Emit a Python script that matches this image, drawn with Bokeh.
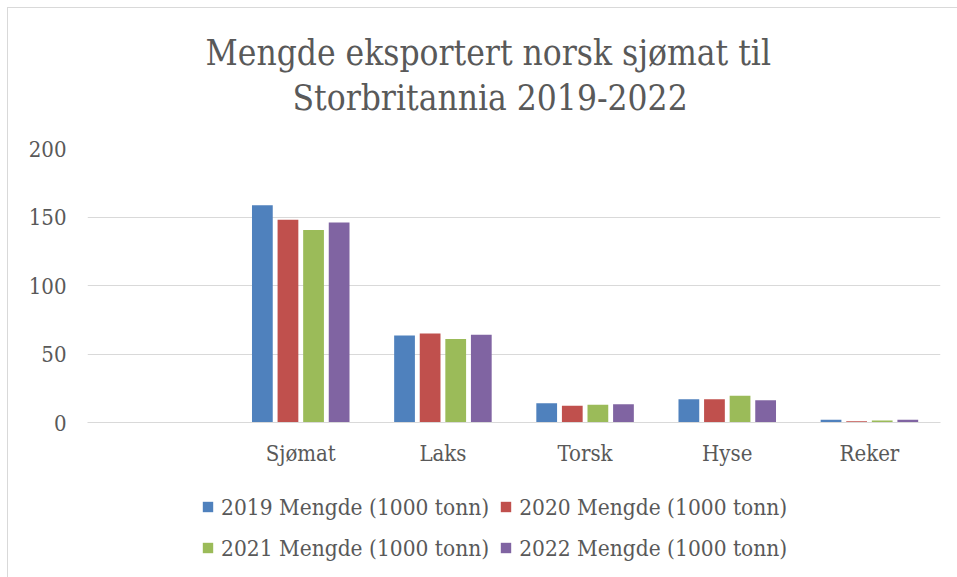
from bokeh.plotting import figure
from bokeh.layouts import column
from bokeh.models import ColumnDataSource, FactorRange, Legend, LegendItem, Title, FixedTicker, Range1d
from bokeh.transform import dodge
from bokeh.embed import file_html
from bokeh.resources import INLINE

# ---- data ----
all_factors = [" ", "Sjømat", "Laks", "Torsk", "Hyse", "Reker"]
categories = ["Sjømat", "Laks", "Torsk", "Hyse", "Reker"]
y2019 = [158.5, 63.5, 14.1, 17.0, 2.0]
y2020 = [148.0, 65.0, 12.2, 17.0, 1.0]
y2021 = [140.6, 61.0, 12.9, 19.5, 1.5]
y2022 = [146.0, 64.0, 13.4, 16.3, 2.0]
series_names = ["2019 Mengde (1000 tonn)", "2020 Mengde (1000 tonn)",
                "2021 Mengde (1000 tonn)", "2022 Mengde (1000 tonn)"]
y_ticks = [0, 50, 100, 150, 200]

colors = ["#4F81BD", "#C0504D", "#9BBB59", "#8064A2"]
offsets = [-0.27, -0.09, 0.09, 0.27]
cols = ["y2019", "y2020", "y2021", "y2022"]
FONT = "DejaVu Serif Condensed"
TXT = "#595959"

source = ColumnDataSource(dict(cat=categories, y2019=y2019, y2020=y2020,
                               y2021=y2021, y2022=y2022))

xr = FactorRange(*all_factors, range_padding=0, factor_padding=0)
p = figure(x_range=xr, y_range=Range1d(0, 200),
           width=949, height=470, output_backend="svg", toolbar_location=None,
           min_border_left=79, min_border_right=17, min_border_top=140, min_border_bottom=56)

for col, off, c in zip(cols, offsets, colors):
    p.vbar(x=dodge("cat", off, range=xr), top=col, width=0.146, source=source,
           fill_color=c, line_color=None)

# titles
p.add_layout(Title(text="Storbritannia 2019-2022", align="left", offset=205, text_font=FONT,
                   text_font_size="35px", text_color=TXT, text_font_style="normal",
                   standoff=61), "above")
p.add_layout(Title(text="Mengde eksportert norsk sjømat til", align="left", offset=118,
                   text_font=FONT, text_font_size="35px", text_color=TXT,
                   text_font_style="normal", standoff=-54), "above")

# axes
p.yaxis.ticker = FixedTicker(ticks=y_ticks)
p.yaxis.axis_line_color = None
p.yaxis.major_tick_line_color = None
p.yaxis.minor_tick_line_color = None
p.yaxis.major_label_text_font = FONT
p.yaxis.major_label_text_font_size = "22px"
p.yaxis.major_label_text_color = TXT
p.yaxis.major_label_standoff = 15

p.xaxis.axis_line_color = "#d9d9d9"
p.xaxis.major_tick_line_color = None
p.xaxis.minor_tick_line_color = None
p.xaxis.major_label_text_font = FONT
p.xaxis.major_label_text_font_size = "22px"
p.xaxis.major_label_text_color = TXT
p.xaxis.major_label_standoff = 12

p.xgrid.grid_line_color = None
p.ygrid.grid_line_color = "#d9d9d9"
p.ygrid.grid_line_width = 1
p.outline_line_color = None

# legend strip below the chart (hidden copies of the bars feed its swatches)
p2 = figure(width=949, height=99, output_backend="svg", toolbar_location=None,
            x_range=xr, y_range=Range1d(1000, 1001), x_axis_type=None, y_axis_type=None,
            min_border=0)
p2.grid.grid_line_color = None
p2.outline_line_color = None
leg_renderers = []
for col, off, c in zip(cols, offsets, colors):
    leg_renderers.append(p2.vbar(x=dodge("cat", off, range=xr), top=col, width=0.146,
                                 source=source, fill_color=c, line_color=None,
                                 visible=False))

legend = Legend(items=[LegendItem(label=n, renderers=[r]) for n, r in zip(series_names, leg_renderers)],
                orientation="horizontal", ncols=2, location=(114, 14),
                label_text_font=FONT, label_text_font_size="22.5px", label_text_color=TXT,
                glyph_width=13, glyph_height=13, label_standoff=7, spacing=10,
                label_height=31, padding=0, margin=0, border_line_color=None,
                background_fill_alpha=0, inactive_fill_alpha=0)
p2.add_layout(legend, "center")

layout = column(p, p2, spacing=0,
                styles={"margin-left": "7px", "margin-top": "7px",
                        "border-top": "1px solid #d9d9d9", "border-left": "1px solid #d9d9d9"})

open("out.html", "w").write(file_html(layout, INLINE))
